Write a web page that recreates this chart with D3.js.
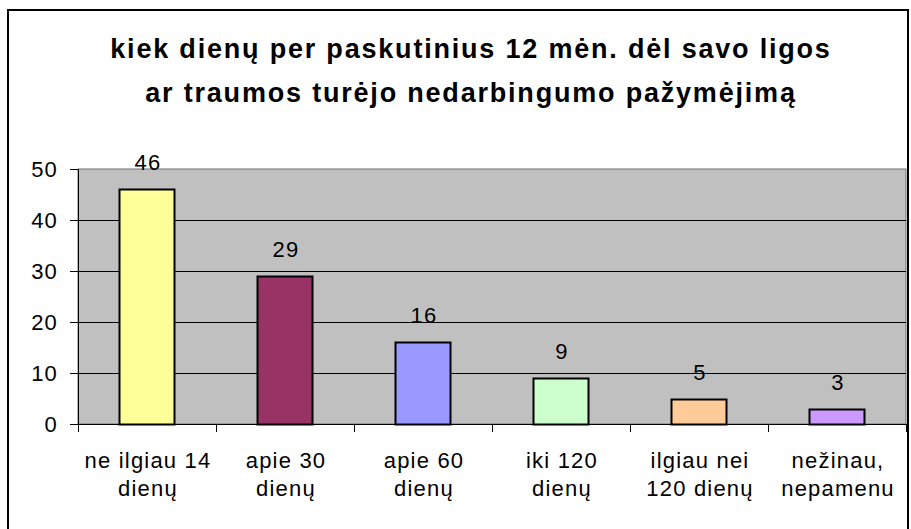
<!DOCTYPE html>
<html>
<head>
<meta charset="utf-8">
<script src="https://cdn.jsdelivr.net/npm/d3@7"></script>
<style>
  body { margin: 0; background: #fff; }
  svg { display: block; font-family: Arial, "Liberation Sans", sans-serif; }
  .lbl { font-size: 22px; letter-spacing: 1.2px; }
</style>
</head>
<body>
<div id="chart"></div>
<script>
const titleLines = ["kiek dienų per paskutinius 12 mėn. dėl savo ligos", "ar traumos turėjo nedarbingumo pažymėjimą"]
const categories = [
  ["ne ilgiau 14", "dienų"],
  ["apie 30", "dienų"],
  ["apie 60", "dienų"],
  ["iki 120", "dienų"],
  ["ilgiau nei", "120 dienų"],
  ["nežinau,", "nepamenu"]
]
const values = [46, 29, 16, 9, 5, 3]
const colors = ["#FFFF99", "#993366", "#9999FF", "#CCFFCC", "#FFCC99", "#CC99FF"]
const yTicks = [0, 10, 20, 30, 40, 50]

let width = 911, height = 529
let plotLeft = 78, plotRight = 906, plotTop = 169, plotBottom = 424

let svg = d3.select('#chart').append('svg')
  .attr('width', width)
  .attr('height', height)

// outer frame
svg.append('rect')
  .attr('x', 8).attr('y', 10)
  .attr('width', 900).attr('height', 530)
  .attr('fill', '#fff')
  .attr('stroke', '#000')
  .attr('stroke-width', 2)

svg.append('text')
  .attr('text-anchor', 'middle')
  .attr('font-weight', 'bold')
  .attr('font-size', 27)
  .style('letter-spacing', '1.8px')
  .selectAll('tspan')
  .data(titleLines)
  .enter().append('tspan')
    .attr('x', 471)
    .attr('y', (d, i) => 58 + i * 44)
    .text(d => d)

let x = d3.scaleBand()
  .domain(d3.range(categories.length))
  .range([plotLeft, plotRight])
let y = d3.scaleLinear()
  .domain([0, 50])
  .range([plotBottom, plotTop])

// plot area
svg.append('rect')
  .attr('x', plotLeft).attr('y', plotTop)
  .attr('width', plotRight - plotLeft).attr('height', plotBottom - plotTop)
  .attr('fill', '#C0C0C0')
  .attr('stroke', '#707070')
  .attr('stroke-width', 1)

// gridlines
svg.append('g')
  .selectAll('line')
  .data(yTicks.slice(1, -1))
  .enter().append('line')
    .attr('x1', plotLeft).attr('x2', plotRight)
    .attr('y1', d => Math.round(y(d)) + 0.5)
    .attr('y2', d => Math.round(y(d)) + 0.5)
    .attr('stroke', '#000')

// y axis
let yAxis = svg.append('g')
  .attr('transform', `translate(${plotLeft},0)`)
  .call(d3.axisLeft(y).tickValues(yTicks).tickSize(8).tickPadding(12))
yAxis.select('.domain').attr('stroke', '#000')
yAxis.selectAll('text')
  .attr('class', 'lbl')
  .attr('fill', '#000')
yAxis.attr('font-size', null).attr('font-family', null)

// x axis
let xAxis = svg.append('g')
  .attr('transform', `translate(0,${plotBottom})`)
  .call(d3.axisBottom(x).tickSize(0).tickFormat(''))
xAxis.select('.domain').attr('stroke', '#000')
xAxis.selectAll('.sep')
  .data(d3.range(categories.length + 1))
  .enter().append('line')
    .attr('class', 'sep')
    .attr('x1', i => Math.round(plotLeft + i * x.step()) + 0.5)
    .attr('x2', i => Math.round(plotLeft + i * x.step()) + 0.5)
    .attr('y1', 0).attr('y2', 8)
    .attr('stroke', '#000')

// category labels
svg.append('g')
  .selectAll('text')
  .data(categories)
  .enter().append('text')
    .attr('class', 'lbl')
    .attr('text-anchor', 'middle')
    .selectAll('tspan')
    .data((d, i) => d.map(t => ({ t, i })))
    .enter().append('tspan')
      .attr('x', d => x(d.i) + x.bandwidth() / 2 + 1)
      .attr('y', (d, j) => 468 + j * 28)
      .text(d => d.t)

// bars
let barWidth = x.bandwidth() * 0.4
svg.append('g')
  .selectAll('rect')
  .data(values)
  .enter().append('rect')
    .attr('x', (d, i) => Math.round(x(i) + x.bandwidth() / 2 - barWidth / 2) + 0.5)
    .attr('y', d => Math.round(y(d)) + 0.5)
    .attr('width', Math.round(barWidth))
    .attr('height', d => Math.round(y(0)) - Math.round(y(d)))
    .attr('fill', (d, i) => colors[i])
    .attr('stroke', '#000')
    .attr('stroke-width', 2)

// value labels
svg.append('g')
  .selectAll('text')
  .data(values)
  .enter().append('text')
    .attr('class', 'lbl')
    .attr('text-anchor', 'middle')
    .attr('x', (d, i) => x(i) + x.bandwidth() / 2 + 1)
    .attr('y', d => y(d) - 19)
    .text(d => d)
</script>
</body>
</html>
